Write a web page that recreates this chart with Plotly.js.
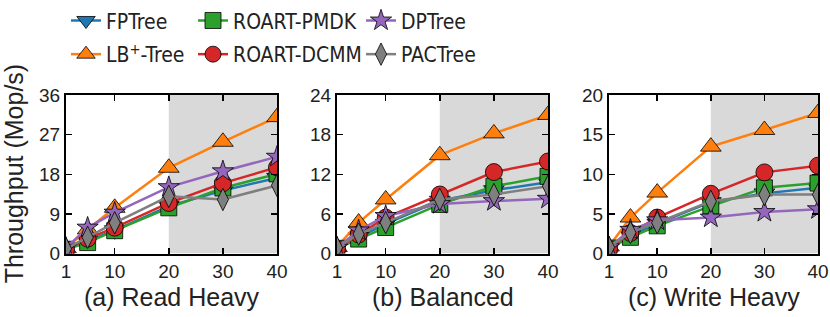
<!DOCTYPE html>
<html>
<head>
<meta charset="utf-8">
<script src="https://cdn.plot.ly/plotly-3.0.1.min.js"></script>
<style>html,body{margin:0;padding:0;background:#fff;}#chart{width:830px;height:317px;}</style>
</head>
<body>
<div id="chart"></div>
<script>
// ---- data ----
const threads = [1, 5, 10, 20, 30, 40];
const seriesNames = ["FPTree", "LB<sup>+</sup>-Tree", "ROART-PMDK", "ROART-DCMM", "DPTree", "PACTree"];
const panelTitles = ["(a) Read Heavy", "(b) Balanced", "(c) Write Heavy"];

// (a) Read Heavy
const rhFPTree  = [1.0, 2.8, 5.3, 10.8, 14.3, 17.2];
const rhLBTree  = [1.2, 5.5, 10.4, 19.5, 25.4, 31.0];
const rhPMDK    = [1.0, 2.5, 5.2, 10.4, 14.9, 18.1];
const rhDCMM    = [0.9, 3.4, 5.9, 11.5, 16.0, 19.6];
const rhDPTree  = [1.3, 5.9, 9.3, 15.1, 18.7, 22.0];
const rhPACTree = [1.1, 3.7, 7.0, 13.0, 12.3, 15.5];

// (b) Balanced
const baFPTree  = [0.8, 2.5, 4.5, 8.0, 9.6, 10.8];
const baLBTree  = [1.0, 4.7, 8.2, 14.9, 18.2, 21.0];
const baPMDK    = [0.8, 2.2, 3.95, 7.45, 10.2, 11.7];
const baDCMM    = [0.7, 2.9, 5.45, 8.95, 12.35, 13.95];
const baDPTree  = [0.9, 3.5, 5.7, 7.5, 7.95, 8.3];
const baPACTree = [0.9, 2.95, 4.7, 8.2, 8.95, 10.2];

// (c) Write Heavy
const whFPTree  = [0.7, 2.3, 3.8, 6.5, 7.6, 8.3];
const whLBTree  = [0.9, 4.55, 7.7, 13.5, 15.6, 17.75];
const whPMDK    = [0.7, 2.05, 3.5, 6.0, 8.3, 8.9];
const whDCMM    = [0.6, 2.6, 4.55, 7.55, 10.25, 11.1];
const whDPTree  = [0.8, 3.0, 4.2, 4.55, 5.25, 5.6];
const whPACTree = [0.8, 2.65, 3.9, 6.6, 7.45, 7.45];

const yMax = [36, 24, 20];
const yStep = [9, 6, 5];
const xTicks = [1, 10, 20, 30, 40];

// ---- style ----
const colors = ["#1f77b4", "#ff7f0e", "#2ca02c", "#d62728", "#9467bd", "#7f7f7f"];
const symbols = ["triangle-down", "triangle-up", "square", "circle", "star", "diamond-tall"];
const sizes = [18, 18, 16, 17, 16, 16];
const panels = [
  [rhFPTree, rhLBTree, rhPMDK, rhDCMM, rhDPTree, rhPACTree],
  [baFPTree, baLBTree, baPMDK, baDCMM, baDPTree, baPACTree],
  [whFPTree, whLBTree, whPMDK, whDCMM, whDPTree, whPACTree]
];
const W = 830, H = 317;
const xDom = [[66, 277], [337, 548], [609, 818]];
const yDom = [(H - 253) / H, (H - 93) / H];
const legendNames = ["legend", "legend2", "legend3", "legend4", "legend5", "legend6"];
const legendPos = [[107, 18], [107, 52], [234, 18], [234, 52], [402, 18], [402, 52]];

const tickFont = {family: "Liberation Sans, Arial, sans-serif", size: 19, color: "#222"};
const legendFont = {family: "Liberation Sans Narrow, DejaVu Sans Condensed, Liberation Sans, sans-serif", size: 21, color: "#222"};

const traces = [];
panels.forEach((p, pi) => {
  const sfx = pi === 0 ? "" : String(pi + 1);
  p.forEach((vals, si) => {
    traces.push({
      type: "scatter", mode: "lines+markers",
      x: threads, y: vals,
      xaxis: "x" + sfx, yaxis: "y" + sfx,
      name: seriesNames[si],
      legend: legendNames[si],
      showlegend: pi === 0,
      line: {color: colors[si], width: 2.5},
      marker: {symbol: symbols[si], size: sizes[si], color: colors[si], line: {color: "#000", width: 0.8}},
      cliponaxis: true
    });
  });
});

const layout = {
  width: W, height: H,
  margin: {l: 0, r: 0, t: 0, b: 0},
  paper_bgcolor: "#fff", plot_bgcolor: "#fff",
  shapes: [], annotations: []
};

legendPos.forEach((pos, i) => {
  layout[legendNames[i]] = {
    x: (pos[0] - 41) / W, y: 1 - pos[1] / H,
    xanchor: "left", yanchor: "middle",
    orientation: "v", bgcolor: "rgba(0,0,0,0)",
    font: legendFont, itemsizing: "trace"
  };
});

for (let pi = 0; pi < 3; pi++) {
  const sfx = pi === 0 ? "" : String(pi + 1);
  const xk = "xaxis" + sfx, yk = "yaxis" + sfx;
  const yt = [];
  for (let v = 0; v <= yMax[pi]; v += yStep[pi]) yt.push(v);
  layout[xk] = {
    domain: [xDom[pi][0] / W, xDom[pi][1] / W], anchor: "y" + sfx,
    range: [1, 40], tickvals: xTicks, ticktext: xTicks.map(String),
    ticks: "inside", ticklen: 6, tickwidth: 1.5, tickcolor: "#000",
    showline: true, linewidth: 2, linecolor: "#000", mirror: "ticks",
    showgrid: false, zeroline: false, tickfont: tickFont
  };
  layout[yk] = {
    domain: yDom, anchor: "x" + sfx,
    range: [0, yMax[pi]], tickvals: yt, ticktext: yt.map(String),
    ticks: "inside", ticklen: 6, tickwidth: 1.5, tickcolor: "#000",
    showline: true, linewidth: 2, linecolor: "#000", mirror: "ticks",
    showgrid: false, zeroline: false, tickfont: tickFont
  };
  layout.shapes.push({
    type: "rect", xref: "x" + sfx, yref: "y" + sfx,
    x0: 20, x1: 40, y0: 0, y1: yMax[pi],
    fillcolor: "#d9d9d9", line: {width: 0}, layer: "below"
  });
  layout.annotations.push({
    xref: "paper", yref: "paper",
    x: (xDom[pi][0] + xDom[pi][1]) / 2 / W, y: 1 - 297 / H,
    xanchor: "center", yanchor: "middle", showarrow: false,
    text: panelTitles[pi],
    font: {family: "Liberation Sans, Arial, sans-serif", size: 25, color: "#222"}
  });
}
layout.annotations.push({
  xref: "paper", yref: "paper", x: 14 / W, y: 1 - 172 / H,
  xanchor: "center", yanchor: "middle", showarrow: false, textangle: -90,
  text: "Throughput (Mop/s)",
  font: {family: "Liberation Sans, Arial, sans-serif", size: 25, color: "#222"}
});

Plotly.newPlot("chart", traces, layout, {staticPlot: true, displayModeBar: false});
</script>
</body>
</html>
